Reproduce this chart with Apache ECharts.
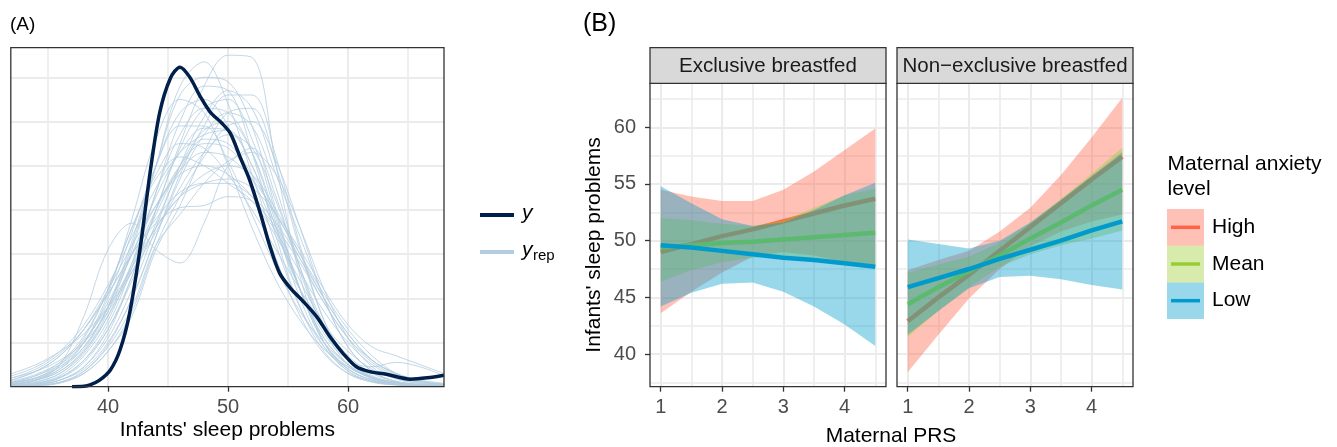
<!DOCTYPE html>
<html>
<head>
<meta charset="utf-8">
<script src="https://cdn.jsdelivr.net/npm/echarts@6/dist/echarts.min.js"></script>
<style>
  html, body { margin: 0; padding: 0; background: #fff; }
  #main { width: 1337px; height: 447px; }
</style>
</head>
<body>
<div id="main"></div>
<script>
// ---------- (A) posterior predictive density overlay ----------
// density values are read in grid units (one horizontal gridline = 1)
const densX = [32, 34, 36, 38, 40, 42, 44, 46, 48, 50, 52, 54, 56, 58, 60, 62, 64, 66, 68]
const yrepCurves = [
  [0.02, 0.05, 0.15, 0.45, 1.2, 2.5, 4.0, 5.5, 6.8, 7.5, 7.45, 5.0, 2.5, 1.0, 0.35, 0.12, 0.04, 0.02, 0.01],
  [0.05, 0.12, 0.3, 0.8, 1.7, 3.1, 5.0, 6.8, 7.35, 6.4, 4.8, 3.2, 1.8, 0.9, 0.4, 0.15, 0.06, 0.03, 0.01],
  [0.1, 0.2, 0.45, 0.9, 1.8, 3.2, 5.0, 6.6, 7.0, 6.9, 5.9, 4.0, 2.2, 1.0, 0.45, 0.2, 0.08, 0.04, 0.02],
  [0.05, 0.15, 0.5, 1.6, 3.1, 3.7, 3.1, 2.8, 3.7, 5.0, 5.4, 4.3, 2.6, 1.3, 0.6, 0.25, 0.1, 0.04, 0.02],
  [0.15, 0.35, 0.7, 1.3, 2.1, 3.0, 3.7, 4.05, 4.1, 4.3, 4.2, 3.6, 2.8, 1.9, 1.1, 0.6, 0.3, 0.15, 0.08],
  [0.03, 0.08, 0.25, 0.7, 1.5, 2.8, 4.4, 5.7, 6.3, 6.2, 5.3, 3.7, 2.2, 1.1, 0.5, 0.2, 0.07, 0.03, 0.01],
  [0.02, 0.05, 0.15, 0.4, 1.0, 2.0, 3.4, 4.8, 5.9, 6.6, 6.6, 5.2, 3.2, 1.5, 0.6, 0.2, 0.07, 0.02, 0.01],
  [0.25, 0.45, 0.8, 1.4, 2.3, 3.4, 4.5, 5.3, 5.7, 5.8, 5.0, 3.6, 2.0, 0.9, 0.35, 0.12, 0.05, 0.02, 0.01],
  [0.1, 0.25, 0.5, 1.0, 1.9, 3.0, 4.1, 4.9, 5.3, 5.2, 4.7, 3.9, 2.9, 1.9, 1.1, 0.55, 0.25, 0.1, 0.05],
  [0.01, 0.03, 0.1, 0.3, 0.8, 1.7, 3.2, 4.3, 5.2, 5.9, 6.0, 5.1, 3.6, 2.0, 0.9, 0.35, 0.12, 0.05, 0.02],
  [0.02, 0.06, 0.2, 0.6, 1.4, 2.7, 4.4, 6.0, 6.8, 6.7, 5.3, 3.4, 1.8, 0.8, 0.3, 0.1, 0.04, 0.02, 0.01],
  [0.08, 0.2, 0.45, 1.0, 2.0, 3.5, 5.0, 5.9, 5.9, 5.1, 3.9, 2.7, 1.7, 1.0, 0.5, 0.22, 0.1, 0.04, 0.02],
  [0.12, 0.28, 0.55, 1.05, 1.8, 2.7, 3.6, 4.3, 4.8, 5.0, 4.8, 4.0, 3.0, 2.0, 1.2, 0.6, 0.3, 0.14, 0.06],
  [0.02, 0.05, 0.15, 0.45, 1.1, 2.2, 3.6, 5.0, 6.1, 6.7, 6.3, 4.8, 3.4, 2.0, 0.9, 0.35, 0.12, 0.05, 0.02],
  [0.05, 0.15, 0.4, 1.0, 2.1, 3.8, 5.6, 6.5, 6.2, 5.0, 3.6, 2.4, 1.5, 0.85, 0.45, 0.2, 0.09, 0.04, 0.02],
  [0.04, 0.1, 0.3, 0.75, 1.6, 2.8, 4.0, 5.0, 5.5, 5.4, 4.7, 3.5, 2.2, 1.2, 0.6, 0.45, 0.55, 0.45, 0.25],
  [0.2, 0.4, 0.75, 1.3, 2.1, 3.0, 3.8, 4.4, 4.6, 4.6, 4.3, 3.7, 2.9, 2.0, 1.2, 0.6, 0.28, 0.12, 0.05],
  [0.01, 0.03, 0.1, 0.35, 0.9, 1.8, 3.2, 3.9, 4.6, 5.1, 5.3, 4.8, 3.6, 2.2, 1.1, 0.45, 0.18, 0.07, 0.03],
  [0.06, 0.15, 0.35, 0.85, 1.8, 3.3, 5.0, 6.2, 6.5, 5.9, 4.5, 2.9, 1.6, 0.75, 0.3, 0.12, 0.05, 0.02, 0.01],
  [0.03, 0.08, 0.2, 0.55, 1.3, 2.5, 4.0, 5.4, 6.3, 6.5, 5.6, 3.9, 2.2, 1.0, 0.4, 0.15, 0.05, 0.02, 0.01],
  [0.3, 0.5, 0.8, 1.2, 1.8, 2.6, 3.5, 4.5, 5.3, 5.7, 5.4, 4.2, 2.7, 1.4, 0.6, 0.22, 0.08, 0.03, 0.01],
  [0.03, 0.08, 0.22, 0.6, 1.3, 2.4, 3.7, 4.9, 5.6, 5.5, 4.8, 3.9, 3.0, 2.1, 1.3, 0.7, 0.3, 0.12, 0.05],
  [0.1, 0.25, 0.55, 1.15, 2.2, 3.6, 4.8, 5.5, 5.4, 4.8, 4.0, 3.1, 2.2, 1.4, 0.8, 0.4, 0.18, 0.08, 0.03],
  [0.01, 0.02, 0.08, 0.3, 0.8, 1.6, 3.1, 4.1, 5.3, 6.2, 6.3, 5.0, 3.1, 1.5, 0.6, 0.2, 0.06, 0.02, 0.01],
  [0.08, 0.18, 0.4, 0.9, 1.8, 3.0, 4.3, 5.3, 5.85, 5.8, 5.0, 3.6, 2.2, 1.1, 0.5, 0.2, 0.08, 0.03, 0.01],
  [0.05, 0.15, 0.35, 0.8, 1.6, 2.6, 3.6, 4.3, 4.6, 4.7, 4.5, 3.9, 3.1, 2.2, 1.4, 0.9, 0.7, 0.5, 0.3],
  [0.15, 0.35, 0.7, 1.3, 2.2, 3.2, 4.1, 4.8, 5.0, 4.8, 4.3, 3.5, 2.6, 1.7, 1.0, 0.5, 0.22, 0.1, 0.04],
  [0.01, 0.03, 0.1, 0.35, 0.95, 2.0, 3.4, 4.7, 5.7, 6.2, 5.9, 4.5, 2.7, 1.3, 0.5, 0.18, 0.06, 0.02, 0.01],
  [0.08, 0.2, 0.5, 1.1, 2.2, 3.6, 4.7, 5.2, 5.0, 4.6, 4.2, 3.4, 2.4, 1.4, 0.7, 0.3, 0.12, 0.05, 0.02],
  [0.2, 0.35, 0.6, 1.0, 1.7, 2.7, 3.9, 5.0, 5.8, 6.0, 5.3, 3.8, 2.2, 1.0, 0.4, 0.15, 0.05, 0.02, 0.01]
]
const obsX = [37, 38, 38.5, 39.3, 40.2, 41, 41.8, 42.7, 43.5, 44.3, 45.2, 46, 46.8, 47.7, 48.5, 49.5, 50.2, 51, 51.8, 52.7, 53.5, 54.3, 55.2, 56.3, 57.4, 58.5, 59.6, 60.7, 61.8, 63.2, 65.2, 66.6, 68]
const obsY = [0, 0.01, 0.04, 0.15, 0.38, 0.83, 1.66, 3.17, 4.83, 6.19, 6.98, 7.23, 7.01, 6.56, 6.22, 5.96, 5.73, 5.2, 4.68, 3.92, 3.17, 2.57, 2.23, 1.92, 1.58, 1.13, 0.75, 0.45, 0.34, 0.28, 0.17, 0.2, 0.26]

// ---------- (B) marginal effects by maternal PRS ----------
const prs = [1, 1.5, 2, 2.5, 3, 3.5, 4, 4.5]
const levels = ['High', 'Mean', 'Low']
const levelColors = ['#FF6347', '#9ACD32', '#009ACD']

const exclHighFit = [49.0, 49.7, 50.4, 51.0, 51.7, 52.4, 53.1, 53.7]
const exclHighLo = [43.6, 45.5, 47.2, 48.6, 49.0, 48.7, 48.1, 47.6]
const exclHighHi = [54.5, 53.9, 53.5, 53.5, 54.5, 56.1, 58.0, 59.9]
const exclMeanFit = [49.4, 49.6, 49.8, 49.9, 50.1, 50.3, 50.5, 50.7]
const exclMeanLo = [46.4, 47.4, 48.1, 48.5, 48.6, 48.4, 48.1, 47.9]
const exclMeanHi = [52.0, 51.8, 51.5, 51.3, 51.8, 52.9, 54.0, 54.6]
const exclLowFit = [49.6, 49.4, 49.1, 48.8, 48.5, 48.3, 48.0, 47.7]
const exclLowLo = [44.2, 45.4, 46.2, 46.3, 45.5, 44.2, 42.6, 40.7]
const exclLowHi = [54.8, 53.3, 51.9, 51.3, 51.6, 52.7, 54.0, 55.1]

const nonHighFit = [42.9, 45.0, 47.0, 49.1, 51.2, 53.3, 55.4, 57.4]
const nonHighLo = [38.4, 41.7, 44.9, 47.5, 49.5, 50.8, 51.7, 52.3]
const nonHighHi = [47.4, 48.3, 49.1, 50.8, 52.9, 55.8, 59.1, 62.6]
const nonMeanFit = [44.4, 45.9, 47.3, 48.7, 50.2, 51.6, 53.1, 54.5]
const nonMeanLo = [41.5, 43.8, 45.9, 47.7, 48.8, 49.6, 50.2, 50.9]
const nonMeanHi = [47.2, 47.9, 48.6, 49.8, 51.6, 53.7, 55.9, 58.2]
const nonLowFit = [45.9, 46.7, 47.5, 48.4, 49.2, 50.0, 50.9, 51.7]
const nonLowLo = [41.7, 43.8, 45.8, 46.8, 46.9, 46.6, 46.1, 45.7]
const nonLowHi = [50.1, 49.7, 49.3, 50.0, 51.6, 53.6, 55.7, 57.8]

const font = '"Liberation Sans", Arial, Helvetica, sans-serif'
const gridColor = '#ebebeb'
const tickColor = '#333333'
const labelColor = '#4d4d4d'

function axis (gridIndex, min, max, major, opts) {
  const o = opts || {}
  return {
    type: 'value',
    gridIndex: gridIndex,
    min: min,
    max: max,
    axisLine: { show: false },
    axisTick: {
      show: !!o.ticks,
      customValues: major,
      length: 5,
      lineStyle: { color: tickColor, width: 1.3 }
    },
    axisLabel: {
      show: !!o.labels,
      customValues: major,
      color: labelColor,
      fontSize: 20,
      fontFamily: font,
      margin: o.margin || 10
    },
    splitLine: { show: true, lineStyle: { color: gridColor, width: o.minor ? 1.6 : 2 } }
  }
}

const xAxes = [
  axis(0, 31.9, 68, [40, 50, 60], { ticks: true, labels: true, margin: 11 }),
  axis(0, 31.9, 68, [35, 45, 55, 65], { minor: true }),
  axis(1, 0.825, 4.675, [1, 2, 3, 4], { ticks: true, labels: true, margin: 11 }),
  axis(1, 0.825, 4.675, [1.5, 2.5, 3.5, 4.5], { minor: true }),
  axis(2, 0.825, 4.675, [1, 2, 3, 4], { ticks: true, labels: true, margin: 11 }),
  axis(2, 0.825, 4.675, [1.5, 2.5, 3.5, 4.5], { minor: true })
]
const yAxes = [
  axis(0, 0, 7.67, [1, 2, 3, 4, 5, 6, 7], {}),
  axis(1, 37.12, 63.88, [40, 45, 50, 55, 60], { ticks: true, labels: true, margin: 14 }),
  axis(1, 37.12, 63.88, [37.5, 42.5, 47.5, 52.5, 57.5, 62.5], { minor: true }),
  axis(2, 37.12, 63.88, [40, 45, 50, 55, 60], {}),
  axis(2, 37.12, 63.88, [37.5, 42.5, 47.5, 52.5, 57.5, 62.5], { minor: true })
]

const series = []

yrepCurves.forEach(function (curve, k) {
  series.push({
    name: 'yrep ' + (k + 1),
    type: 'line',
    xAxisIndex: 0,
    yAxisIndex: 0,
    data: densX.map((x, i) => [x, curve[i]]),
    smooth: 0.35,
    showSymbol: false,
    silent: true,
    z: 2,
    lineStyle: { color: '#b3cde0', width: 1, opacity: 0.8 }
  })
})
series.push({
  name: 'y',
  type: 'line',
  xAxisIndex: 0,
  yAxisIndex: 0,
  data: obsX.map((x, i) => [x, obsY[i]]),
  smooth: 0.3,
  showSymbol: false,
  z: 3,
  lineStyle: { color: '#011f4b', width: 3.5 }
})

function fitLine (name, fit, color, xi, yi, z) {
  return {
    name: name,
    type: 'line',
    xAxisIndex: xi,
    yAxisIndex: yi,
    data: prs.map((x, i) => [x, fit[i]]),
    showSymbol: false,
    z: z,
    lineStyle: { color: color, width: 4.5 }
  }
}

function ribbon (name, lo, hi, color, xi, yi, z) {
  return {
    name: name,
    type: 'custom',
    xAxisIndex: xi,
    yAxisIndex: yi,
    z: z,
    data: prs.map((x, i) => [x, lo[i], hi[i]]),
    encode: { x: 0, y: [1, 2] },
    renderItem: function (params, api) {
      if (params.dataIndexInside !== 0) return
      const upper = []
      const lower = []
      for (let i = 0; i < params.dataInsideLength; i++) {
        upper.push(api.coord([api.value(0, i), api.value(2, i)]))
        lower.unshift(api.coord([api.value(0, i), api.value(1, i)]))
      }
      return {
        type: 'polygon',
        shape: { points: upper.concat(lower) },
        style: { fill: color, opacity: 0.4 }
      }
    }
  }
}

const exclSets = [[exclHighFit, exclHighLo, exclHighHi], [exclMeanFit, exclMeanLo, exclMeanHi], [exclLowFit, exclLowLo, exclLowHi]]
const nonSets = [[nonHighFit, nonHighLo, nonHighHi], [nonMeanFit, nonMeanLo, nonMeanHi], [nonLowFit, nonLowLo, nonLowHi]]

// per level: line, then its ribbon on top (High, Mean, Low)
levels.forEach(function (lv, k) {
  series.push(fitLine(lv, exclSets[k][0], levelColors[k], 2, 1, 2 + 2 * k))
  series.push(ribbon(lv + ' CI', exclSets[k][1], exclSets[k][2], levelColors[k], 2, 1, 3 + 2 * k))
  series.push(fitLine(lv, nonSets[k][0], levelColors[k], 4, 3, 2 + 2 * k))
  series.push(ribbon(lv + ' CI', nonSets[k][1], nonSets[k][2], levelColors[k], 4, 3, 3 + 2 * k))
})

function txt (x, y, text, size, opts) {
  const o = opts || {}
  return {
    type: 'text',
    x: x,
    y: y,
    rotation: o.rotation || 0,
    z: 110,
    style: {
      text: text,
      fontSize: size,
      fontFamily: font,
      fontStyle: o.italic ? 'italic' : 'normal',
      fill: o.color || '#000',
      align: o.align || 'left',
      verticalAlign: 'middle'
    }
  }
}
function box (x, y, w, h, fill) {
  return {
    type: 'rect',
    z: 100,
    shape: { x: x, y: y, width: w, height: h },
    style: { fill: fill || 'none', stroke: '#333333', lineWidth: 1.3 }
  }
}

const graphic = [
  txt(10, 25, '(A)', 19),
  txt(583, 24, '(B)', 25),
  box(10.8, 47.7, 433.2, 339),
  box(650, 83.3, 236, 303.4),
  box(897, 83.3, 236, 303.4),
  box(650, 47.7, 236, 35.6, '#d9d9d9'),
  box(897, 47.7, 236, 35.6, '#d9d9d9'),
  txt(768, 66, 'Exclusive breastfed', 20.5, { align: 'center', color: '#1a1a1a' }),
  txt(1015, 66, 'Non\u2212exclusive breastfed', 20.5, { align: 'center', color: '#1a1a1a' }),
  txt(227.4, 430, "Infants' sleep problems", 21, { align: 'center' }),
  txt(891, 436, 'Maternal PRS', 21, { align: 'center' }),
  txt(594.5, 245, "Infants' sleep problems", 21, { align: 'center', rotation: Math.PI / 2 }),
  // legend (A)
  { type: 'line', z: 110, shape: { x1: 480, y1: 215, x2: 514, y2: 215 }, style: { stroke: '#011f4b', lineWidth: 4 } },
  { type: 'line', z: 110, shape: { x1: 480, y1: 252, x2: 514, y2: 252 }, style: { stroke: '#b3cde0', lineWidth: 4 } },
  txt(522, 213, 'y', 21, { italic: true }),
  txt(522, 250, 'y', 21, { italic: true }),
  txt(533, 256, 'rep', 15),
  // legend (B)
  txt(1167.5, 164, 'Maternal anxiety', 21),
  txt(1167.5, 189, 'level', 21)
]
levels.forEach(function (lv, k) {
  const top = 209 + k * 36.7
  graphic.push({ type: 'rect', z: 105, shape: { x: 1167, y: top, width: 37, height: 36.7 }, style: { fill: levelColors[k], opacity: 0.4 } })
  graphic.push({ type: 'line', z: 106, shape: { x1: 1171, y1: top + 18.3, x2: 1200, y2: top + 18.3 }, style: { stroke: levelColors[k], lineWidth: 3.5 } })
  graphic.push(txt(1212, top + 18.3, lv, 21))
})

const chart = echarts.init(document.getElementById('main'), null, { renderer: 'canvas' })
chart.setOption({
  animation: false,
  backgroundColor: '#ffffff',
  textStyle: { fontFamily: font },
  grid: [
    { left: 10.8, top: 47.7, width: 433.2, height: 339, outerBoundsMode: 'none' },
    { left: 650, top: 83.3, width: 236, height: 303.4, outerBoundsMode: 'none' },
    { left: 897, top: 83.3, width: 236, height: 303.4, outerBoundsMode: 'none' }
  ],
  xAxis: xAxes,
  yAxis: yAxes,
  series: series,
  graphic: graphic
})
</script>
</body>
</html>
